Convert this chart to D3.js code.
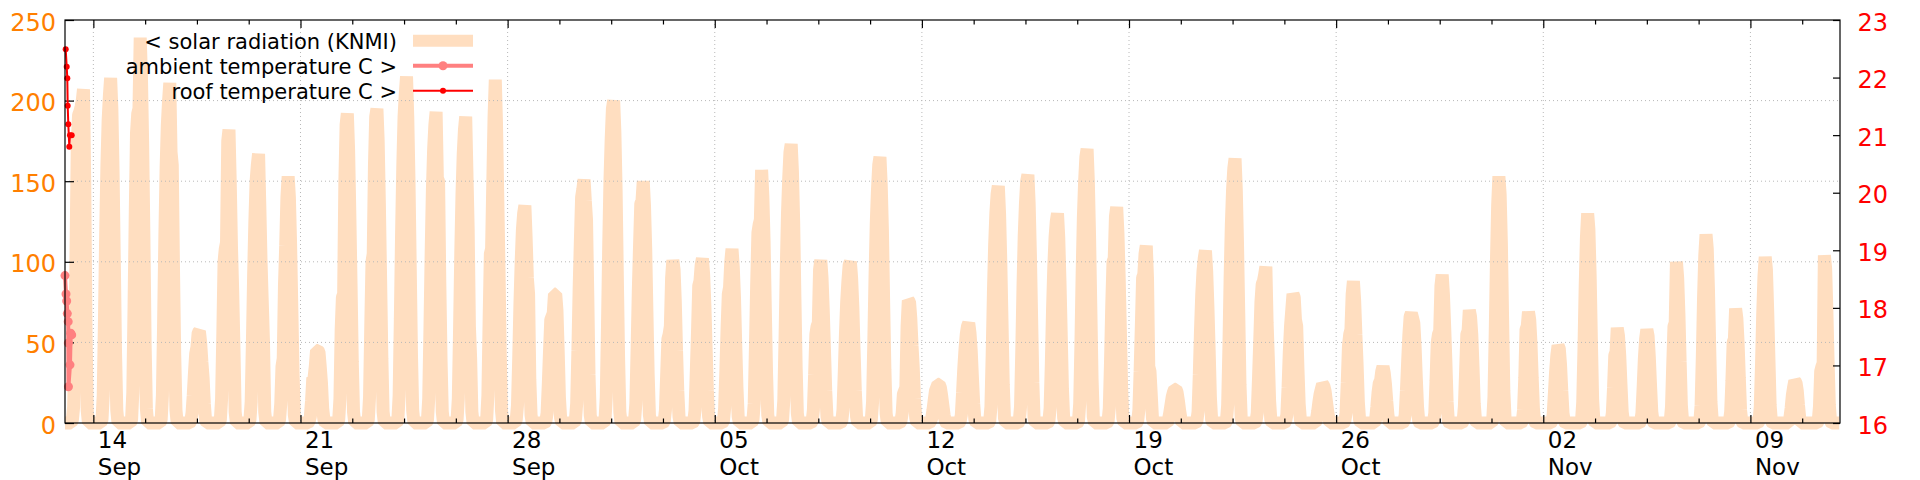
<!DOCTYPE html>
<html><head><meta charset="utf-8">
<script src="https://cdn.jsdelivr.net/npm/d3@7"></script>
<style>html,body{margin:0;padding:0;background:#fff;} svg{display:block;font-family:"DejaVu Sans",sans-serif;}</style>
</head><body><svg id="c" width="1920" height="480"></svg>
<script>
// ---------------- DATA ----------------
const xDomain = ["2016-09-13T01:00", "2016-11-12T00:40"];
const firstDay = "2016-09-13";
const solarHours = [7,8,9,10,11,12,13,14,15,16,17,18,19];
// hourly solar radiation per day (J/cm2), hours 7..19
const solarDaily = [
[2,10,45,110,175,191,193,196,200,207,150,60,8],
[2,17,64,118,160,188,203,214,195,155,100,43,8],
[2,19,72,131,180,192,195,239,215,172,115,48,9],
[2,17,63,116,158,185,200,211,168,160,95,42,8],
[1,6,17,31,43,47,56,57,50,38,28,12,2],
[2,15,55,100,108,112,175,182,150,110,82,48,7],
[2,13,50,92,125,150,160,167,135,100,75,50,7],
[2,12,35,40,85,110,140,153,140,110,70,30,5],
[1,4,14,28,28,35,45,45,44,35,25,9,2],
[2,15,58,78,80,150,185,192,170,130,86,38,7],
[2,16,60,100,105,160,190,195,175,135,88,40,7],
[2,17,65,118,160,190,204,215,190,150,97,43,8],
[2,15,58,106,145,170,185,193,152,150,87,39,7],
[2,15,57,105,142,167,182,190,155,120,60,40,7],
[2,17,64,105,108,150,190,213,185,140,96,43,8],
[2,11,40,74,100,120,130,135,115,90,80,27,5],
[1,6,24,45,64,66,68,80,80,70,45,16,3],
[2,12,45,83,113,140,145,151,138,126,80,30,5],
[2,16,60,110,150,176,195,200,180,144,90,40,7],
[2,12,45,82,110,136,138,150,135,108,68,30,5],
[1,8,30,52,55,60,90,101,95,75,45,20,4],
[1,8,31,56,85,88,98,102,92,73,46,20,4],
[1,9,32,59,80,84,100,108,97,78,49,22,4],
[2,12,47,86,118,123,126,157,141,113,71,31,5],
[2,14,52,95,130,152,168,173,156,125,78,35,6],
[1,8,30,55,60,62,95,101,90,70,45,20,4],
[1,8,30,55,75,88,98,100,90,72,45,20,4],
[2,13,50,91,124,145,160,165,148,119,74,33,6],
[1,6,18,20,22,60,76,75,65,48,34,15,3],
[1,3,8,14,20,22,24,24,22,17,11,5,1],
[1,5,19,34,46,55,60,62,56,45,28,12,2],
[1,10,42,80,110,130,142,147,130,100,62,24,3],
[1,10,44,84,116,136,150,154,136,105,65,25,3],
[1,9,37,71,97,115,125,130,115,88,55,21,3],
[1,12,49,93,128,150,165,170,150,116,72,28,4],
[1,9,38,73,100,102,128,134,118,91,57,22,3],
[1,8,32,60,90,92,105,110,90,35,32,18,3],
[0,2,6,11,16,19,21,21,19,14,8,3,0],
[1,7,30,58,80,94,102,107,94,72,45,16,2],
[1,11,46,90,123,145,158,164,145,111,68,24,3],
[1,6,27,50,75,86,88,92,97,62,40,14,2],
[1,5,22,44,60,70,80,78,64,60,34,12,2],
[0,2,7,13,18,21,24,23,20,14,8,3,0],
[1,6,25,48,55,58,80,88,76,55,36,13,2],
[0,2,10,19,25,26,32,35,31,24,14,5,0],
[1,5,20,38,55,66,68,65,62,48,28,10,1],
[1,6,26,50,55,57,85,92,80,60,38,13,1],
[1,10,32,55,57,70,66,55,35,12,2,0,0],
[2,16,55,100,135,153,142,112,65,20,3,0,0],
[1,8,28,58,60,69,64,50,28,9,1,0,0],
[1,5,18,32,42,48,46,36,20,6,1,0,0],
[1,13,46,85,115,130,120,92,52,15,2,0,0],
[1,6,22,42,44,59,54,42,24,7,1,0,0],
[1,6,22,40,52,58,54,41,23,7,1,0,0],
[1,10,36,60,62,100,90,68,38,11,1,0,0],
[1,11,41,78,104,117,108,82,46,13,2,0,0],
[1,7,26,50,52,71,65,50,28,8,1,0,0],
[1,10,36,68,91,103,95,70,40,11,1,0,0],
[0,3,9,17,22,26,25,20,11,3,0,0,0],
[1,10,32,35,37,104,96,70,38,11,1,0,0]
];
const ambientTimes = ["2016-09-13T01:00","2016-09-13T01:49","2016-09-13T02:23","2016-09-13T02:52","2016-09-13T03:35","2016-09-13T03:41","2016-09-13T03:47","2016-09-13T05:03","2016-09-13T05:37","2016-09-13T06:26"];
const ambientValues = [18.56,18.24,18.12,17.90,17.76,17.39,16.63,17.01,17.56,17.53];
const roofTimes = ["2016-09-13T01:34","2016-09-13T02:23","2016-09-13T02:52","2016-09-13T03:11","2016-09-13T03:41","2016-09-13T04:29","2016-09-13T05:03","2016-09-13T06:26"];
const roofValues = [22.49,22.19,21.99,21.51,21.19,20.80,21.00,21.00];
const leftTicks = [0,50,100,150,200,250];
const rightTicks = [16,17,18,19,20,21,22,23];
const majorTickDates = ["2016-09-14","2016-09-21","2016-09-28","2016-10-05","2016-10-12","2016-10-19","2016-10-26","2016-11-02","2016-11-09"];
const legendLabels = ["< solar radiation (KNMI)","ambient temperature C >","roof temperature C >"];

// ---------------- LAYOUT ----------------
const L = 65, R = 1840, T = 20, B = 423;
const svg = d3.select("#c");
const pt = d3.utcParse("%Y-%m-%dT%H:%M");
const pd = d3.utcParse("%Y-%m-%d");
const x = d3.scaleUtc().domain(xDomain.map(pt)).range([L, R]);
const y = d3.scaleLinear().domain([0, 250]).range([B, T]);
const y2 = d3.scaleLinear().domain([16, 23]).range([B, T]);

// build hourly solar series
const solar = [];
const d0 = pd(firstDay);
const tEnd = x.domain()[1];
for (let d = 0; d < solarDaily.length + 1; d++) {
  for (let h = 0; h < 24; h++) {
    const t = d3.utcHour.offset(d3.utcDay.offset(d0, d), h);
    if (t < x.domain()[0] || t > tEnd) continue;
    const idx = solarHours.indexOf(h);
    const arr = solarDaily[d];
    const v = (arr && idx >= 0) ? arr[idx] : 0;
    solar.push([t, v]);
  }
}

const solarColor = "#ffdec0";
const line = d3.line().x(d => x(d[0])).y(d => y(d[1]));
svg.append("path").datum(solar).attr("d", line)
  .attr("fill", "none").attr("stroke", solarColor).attr("stroke-width", 13)
  .attr("stroke-linejoin", "bevel").attr("stroke-linecap", "butt");

// grid
const gridG = svg.append("g").attr("stroke", "#b8b8b8").attr("stroke-width", 1).attr("stroke-dasharray", "1,3");
leftTicks.filter(v => v > 0 && v < 250).forEach(v => {
  gridG.append("line").attr("x1", L).attr("x2", R).attr("y1", y(v)).attr("y2", y(v));
});
majorTickDates.forEach(s => {
  const xv = x(pd(s));
  gridG.append("line").attr("x1", xv).attr("x2", xv).attr("y1", T).attr("y2", B);
});

// axes
const fs = 24;
const m0 = pd(majorTickDates[0]);
const minorTicks = d3.range(1, 40).map(k => new Date(+m0 + k * 1.75 * 864e5))
  .filter((t, i) => t < tEnd && ((i + 1) % 4 !== 0));
const gb = svg.append("g").attr("transform", `translate(0,${B})`)
  .call(d3.axisBottom(x).tickValues(majorTickDates.map(pd)).tickSize(-8).tickSizeOuter(0).tickFormat(""));
const gbm = svg.append("g").attr("transform", `translate(0,${B})`)
  .call(d3.axisBottom(x).tickValues(minorTicks).tickSize(-4.5).tickSizeOuter(0).tickFormat(""));
const gt = svg.append("g").attr("transform", `translate(0,${T})`)
  .call(d3.axisTop(x).tickValues(majorTickDates.map(pd)).tickSize(-8).tickSizeOuter(0).tickFormat(""));
const gtm = svg.append("g").attr("transform", `translate(0,${T})`)
  .call(d3.axisTop(x).tickValues(minorTicks).tickSize(-4.5).tickSizeOuter(0).tickFormat(""));
const gl = svg.append("g").attr("transform", `translate(${L},0)`)
  .call(d3.axisLeft(y).tickValues(leftTicks).tickSize(-9).tickSizeOuter(0).tickPadding(9).tickFormat(d3.format("d")));
const gr = svg.append("g").attr("transform", `translate(${R},0)`)
  .call(d3.axisRight(y2).tickValues(rightTicks).tickSize(-7).tickSizeOuter(0).tickPadding(17.5).tickFormat(d3.format("d")));
[gb, gbm, gt, gtm, gl, gr].forEach(g => {
  g.select(".domain").remove();
  g.selectAll(".tick line").attr("stroke", "#000").attr("stroke-width", 1.2);
});
gl.selectAll("text").attr("font-family", "DejaVu Sans").attr("font-size", fs).attr("fill", "#ff7f00").attr("dy", "0.42em");
gr.selectAll("text").attr("font-family", "DejaVu Sans").attr("font-size", fs).attr("fill", "#ff0000").attr("dy", "0.42em");

// x labels (two lines)
const fmtD = d3.utcFormat("%d"), fmtB = d3.utcFormat("%b");
const xl = svg.append("g").attr("font-size", 23).attr("fill", "#000");
majorTickDates.forEach(s => {
  const t = pd(s), xv = x(t) + 4.5;
  xl.append("text").attr("x", xv).attr("y", 448).attr("text-anchor", "start").text(fmtD(t));
  xl.append("text").attr("x", xv).attr("y", 474.5).attr("text-anchor", "start").text(fmtB(t));
});

// temperature lines
const ambient = ambientTimes.map((s, i) => [pt(s), ambientValues[i]]);
const roof = roofTimes.map((s, i) => [pt(s), roofValues[i]]);
const line2 = d3.line().x(d => x(d[0])).y(d => y2(d[1]));
svg.append("path").datum(ambient).attr("d", line2).attr("fill", "none").attr("stroke", "#ff8080").attr("stroke-width", 4);
svg.append("g").selectAll("circle").data(ambient).join("circle")
  .attr("cx", d => x(d[0])).attr("cy", d => y2(d[1])).attr("r", 4.5).attr("fill", "#ff8080");
svg.append("path").datum(roof).attr("d", line2).attr("fill", "none").attr("stroke", "#ff0000").attr("stroke-width", 2);
svg.append("g").selectAll("circle").data(roof).join("circle")
  .attr("cx", d => x(d[0])).attr("cy", d => y2(d[1])).attr("r", 3).attr("fill", "#ff0000");

// border
svg.append("rect").attr("x", L).attr("y", T).attr("width", R - L).attr("height", B - T)
  .attr("fill", "none").attr("stroke", "#000").attr("stroke-width", 1.2);

// legend
const lg = svg.append("g").attr("font-size", 21).attr("fill", "#000");
const rows = [49, 74, 99];
legendLabels.forEach((s, i) => {
  lg.append("text").attr("x", 397).attr("y", rows[i]).attr("text-anchor", "end").text(s);
});
const sx1 = 413, sx2 = 473, sm = 443;
svg.append("line").attr("x1", sx1).attr("x2", sx2).attr("y1", 40.8).attr("y2", 40.8).attr("stroke", solarColor).attr("stroke-width", 12);
svg.append("line").attr("x1", sx1).attr("x2", sx2).attr("y1", 65.7).attr("y2", 65.7).attr("stroke", "#ff8080").attr("stroke-width", 4);
svg.append("circle").attr("cx", sm).attr("cy", 65.7).attr("r", 4.5).attr("fill", "#ff8080");
svg.append("line").attr("x1", sx1).attr("x2", sx2).attr("y1", 90.7).attr("y2", 90.7).attr("stroke", "#ff0000").attr("stroke-width", 2);
svg.append("circle").attr("cx", sm).attr("cy", 90.7).attr("r", 3).attr("fill", "#ff0000");
</script></body></html>
